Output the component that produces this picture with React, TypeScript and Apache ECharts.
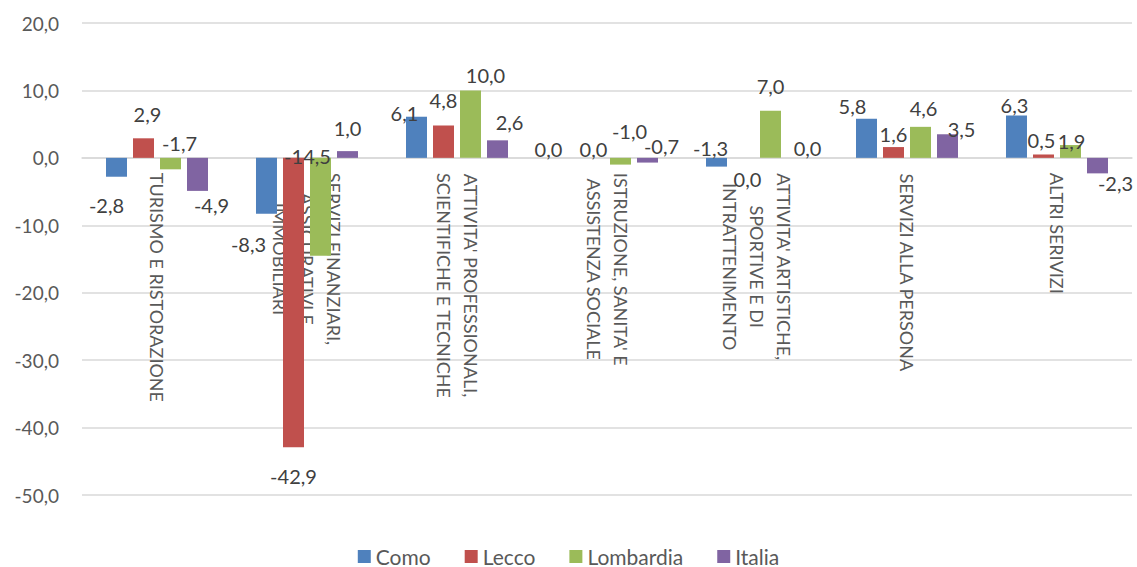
import React, { useEffect, useRef } from "react";
import * as echarts from "echarts";

// Sector categories (line breaks follow the wrapped axis labels)
const categories: string[] = [
  "TURISMO E RISTORAZIONE",
  "SERVIZI FINANZIARI,\nASSICURATIVI E\nIMMOBILIARI",
  "ATTIVITA' PROFESSIONALI,\nSCIENTIFICHE E TECNICHE",
  "ISTRUZIONE, SANITA' E\nASSISTENZA SOCIALE",
  "ATTIVITA' ARTISTICHE,\nSPORTIVE E DI\nINTRATTENIMENTO",
  "SERVIZI ALLA PERSONA",
  "ALTRI SERIVIZI",
];

const seriesNames: string[] = ["Como", "Lecco", "Lombardia", "Italia"];

const como: number[] = [-2.8, -8.3, 6.1, 0.0, -1.3, 5.8, 6.3];
const lecco: number[] = [2.9, -42.9, 4.8, 0.0, 0.0, 1.6, 0.5];
const lombardia: number[] = [-1.7, -14.5, 10.0, -1.0, 7.0, 4.6, 1.9];
const italia: number[] = [-4.9, 1.0, 2.6, -0.7, 0.0, 3.5, -2.3];

const yTicks = { min: -50, max: 20, interval: 10 };

const colors: string[] = ["#4f81bd", "#c0504d", "#9bbb59", "#8064a2"];

// Hand-placed value labels: pixel nudges from the bar end, per series
const comoLabelShift: number[][] = [[-10, 18], [-18, 20], [-12, 6], [-18, 1], [-6, -29], [-14, -3], [-2, 0]];
const leccoLabelShift: number[][] = [[4, -14], [0, 19], [0, -15], [0, 1], [4, 31], [0, -3], [-2, -4]];
const lombardiaLabelShift: number[][] = [[9, -36], [-13, -110], [15, -5], [9, -44], [0, -15], [3, -9], [1, 6]];
const italiaLabelShift: number[][] = [[14, 4], [0, -13], [12, -8], [14, -27], [10, 0], [14, 5], [18, 0]];

const FONT = "Lato, 'Liberation Sans', sans-serif";

const WIDTH = 1137;
const HEIGHT = 567;
const GRID = { left: 82, right: 5, top: 23, bottom: 72 };

const fmt = (v: number) => v.toFixed(1).replace(".", ",");

export default function App() {
  const ref = useRef<HTMLDivElement>(null);

  useEffect(() => {
    if (!ref.current) return;
    const chart = echarts.init(ref.current, undefined, { renderer: "svg" });

    const values = [como, lecco, lombardia, italia];
    const shifts = [comoLabelShift, leccoLabelShift, lombardiaLabelShift, italiaLabelShift];

    // The category axis (line and labels) sits on the zero line
    const plotHeight = HEIGHT - GRID.top - GRID.bottom;
    const zeroOffset = -(plotHeight * (0 - yTicks.min)) / (yTicks.max - yTicks.min);

    const series = seriesNames.map((name, si) => ({
      name,
      type: "bar" as const,
      barWidth: 21,
      barGap: "28.6%",
      itemStyle: { color: colors[si] },
      data: values[si].map((v, i) => ({
        value: v,
        label: {
          position: v >= 0 ? "top" : "bottom",
          offset: shifts[si][i],
        },
      })),
      label: {
        show: true,
        distance: 0,
        formatter: (p: any) => fmt(p.value),
        fontFamily: FONT,
        fontSize: 20,
        color: "#404040",
      },
    }));

    chart.setOption({
      animation: false,
      backgroundColor: "#ffffff",
      color: colors,
      grid: { ...GRID, containLabel: false, outerBoundsMode: "none" },
      legend: {
        data: seriesNames,
        top: 546,
        left: "center",
        padding: 0,
        icon: "rect",
        itemWidth: 13,
        itemHeight: 13,
        itemGap: 34,
        textStyle: { fontFamily: FONT, fontSize: 21, color: "#595959" },
      },
      xAxis: {
        type: "category",
        data: categories,
        position: "bottom",
        offset: zeroOffset,
        axisLine: { onZero: false, lineStyle: { color: "#d9d9d9", width: 1.5 } },
        axisTick: { show: false },
        axisLabel: {
          interval: 0,
          rotate: -90,
          margin: 15,
          formatter: (v: string) =>
            v
              .split("\n")
              .map((l) => `{c|${l}}`)
              .join("\n"),
          rich: {
            c: {
              align: "center",
              fontFamily: FONT,
              fontSize: 18,
              lineHeight: 27,
              color: "#595959",
            },
          },
        },
      },
      yAxis: {
        type: "value",
        min: yTicks.min,
        max: yTicks.max,
        interval: yTicks.interval,
        axisLine: { show: false },
        axisTick: { show: false },
        splitLine: { lineStyle: { color: "#d9d9d9", width: 1.5 } },
        axisLabel: {
          margin: 23,
          formatter: (v: number) => fmt(v),
          fontFamily: FONT,
          fontSize: 19,
          color: "#595959",
        },
      },
      series,
    });

    return () => chart.dispose();
  }, []);

  return (
    <div
      ref={ref}
      style={{ position: "absolute", left: 0, top: 0, width: WIDTH, height: HEIGHT, background: "#fff" }}
    />
  );
}
